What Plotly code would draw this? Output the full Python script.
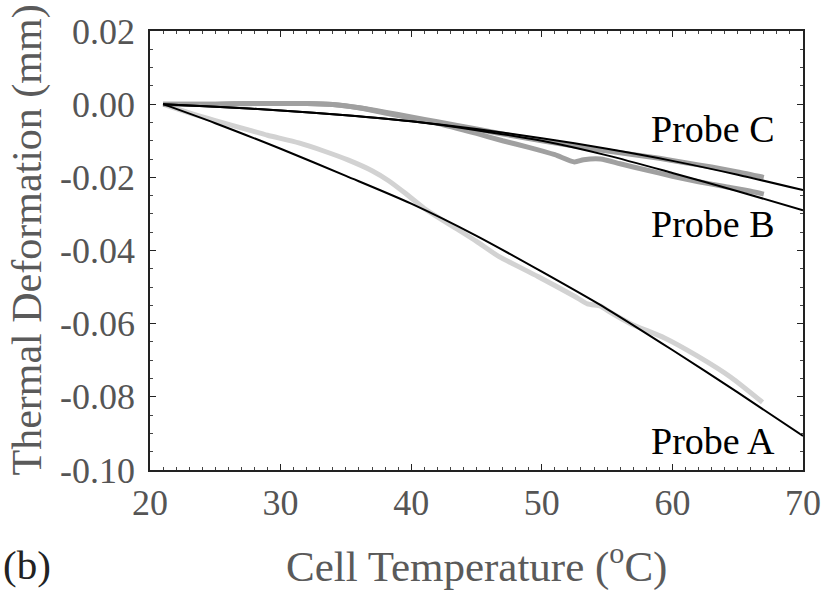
import plotly.graph_objects as go

# ---- data ----
a_data_t = [21, 23, 25, 27.6, 29, 31.4, 33.3, 35.2, 37, 38.3, 39.6, 41, 43.4, 45, 46.7, 49.7, 52.5, 53.5, 54.5, 55.1, 56.8, 59.4, 61.9, 64.5, 66.9]
a_data_y = [0, -0.0024, -0.0045, -0.0071, -0.0085, -0.0106, -0.0128, -0.0153, -0.0182, -0.0210, -0.0245, -0.0285, -0.0339, -0.0375, -0.0416, -0.0471, -0.0525, -0.0546, -0.0552, -0.0566, -0.0600, -0.0639, -0.0688, -0.0747, -0.0815]

b_data_t = [21, 25, 28, 30, 32, 34, 36, 38, 40, 42, 45, 47, 49, 51, 52.5, 53.2, 54.5, 56, 58, 60, 62, 64, 66, 67]
b_data_y = [0, 0.0, 0.0002, 0.0002, 0.0002, -0.0001, -0.0010, -0.0024, -0.0038, -0.0052, -0.0080, -0.0100, -0.0118, -0.0138, -0.0158, -0.0152, -0.0150, -0.0163, -0.0180, -0.0197, -0.0212, -0.0225, -0.0238, -0.0246]

c_data_t = [21, 25, 28, 30, 32, 34, 36, 38, 40, 42, 45, 48, 50, 53, 56, 59, 61, 63, 65, 67]
c_data_y = [0, 0.0, 0.0002, 0.0002, 0.0002, -0.0001, -0.0010, -0.0022, -0.0035, -0.0048, -0.0068, -0.0088, -0.0100, -0.0117, -0.0133, -0.0148, -0.0160, -0.0172, -0.0185, -0.0200]

fit_t = [21, 25, 30, 35, 40, 45, 50, 55, 60, 65, 70]
a_fit_y = [0, -0.0052, -0.0122, -0.0196, -0.0272, -0.0360, -0.0458, -0.0560, -0.0672, -0.0788, -0.0907]
b_fit_y = [0, -0.0007, -0.0017, -0.0030, -0.0047, -0.0071, -0.0100, -0.0140, -0.0188, -0.0238, -0.0290]
c_fit_y = [0, -0.0007, -0.0017, -0.0030, -0.0047, -0.0068, -0.0093, -0.0122, -0.0155, -0.0193, -0.0235]

x_ticks = [20, 30, 40, 50, 60, 70]
y_ticks = [0.02, 0.00, -0.02, -0.04, -0.06, -0.08, -0.10]
y_tick_text = ["0.02", "0.00", "-0.02", "-0.04", "-0.06", "-0.08", "-0.10"]

probe_labels = ["Probe C", "Probe B", "Probe A"]
probe_label_x = [63.1, 63.1, 63.1]
probe_label_y = [-0.0068, -0.0327, -0.0920]

FONT = "Liberation Serif, Times New Roman, serif"
fig = go.Figure()

for t, y, col in [(a_data_t, a_data_y, "#d2d2d2"), (b_data_t, b_data_y, "#a0a0a0"), (c_data_t, c_data_y, "#a0a0a0")]:
    fig.add_trace(go.Scatter(x=t, y=y, mode="lines", line=dict(color=col, width=5, shape="spline", smoothing=0.6),
                             showlegend=False, hoverinfo="skip"))

for y in [a_fit_y, b_fit_y, c_fit_y]:
    fig.add_trace(go.Scatter(x=fit_t, y=y, mode="lines", line=dict(color="black", width=2, shape="spline", smoothing=0.8),
                             showlegend=False, hoverinfo="skip"))

for txt, x, y in zip(probe_labels, probe_label_x, probe_label_y):
    fig.add_annotation(x=x, y=y, xref="x", yref="y", text=txt, showarrow=False,
                       font=dict(family=FONT, size=38, color="black"), xanchor="center", yanchor="middle")

fig.add_annotation(x=0, y=0.5, xref="paper", yref="paper", xshift=-123, yshift=10, text="Thermal Deformation (mm)",
                   textangle=-90, showarrow=False, font=dict(family=FONT, size=42, color="#5a5a5a"),
                   xanchor="center", yanchor="middle")
fig.add_annotation(x=0.5, y=0, xref="paper", yref="paper", yshift=-93, text="Cell Temperature (<sup>o</sup>C)",
                   showarrow=False, font=dict(family=FONT, size=43, color="#5a5a5a"),
                   xanchor="center", yanchor="middle")
fig.add_annotation(x=0, y=0, xref="paper", yref="paper", xshift=-123, yshift=-95, text="(b)",
                   showarrow=False, font=dict(family=FONT, size=41, color="#222222"),
                   xanchor="center", yanchor="middle")

axis_common = dict(showgrid=False, zeroline=False, showline=True, linecolor="#222222", linewidth=1.5,
                   mirror="ticks", ticks="inside", ticklen=6, tickwidth=1.2, tickcolor="#222222")

fig.update_xaxes(range=[20, 70], tickvals=x_ticks, ticktext=[str(v) for v in x_ticks],
                 tickfont=dict(family=FONT, size=36, color="#555555"),
                 minor=dict(dtick=1, ticks="inside", ticklen=3, tickcolor="#444444", tickwidth=1),
                 **axis_common)
fig.update_yaxes(range=[-0.10, 0.02], tickvals=y_ticks, ticktext=y_tick_text,
                 tickfont=dict(family=FONT, size=36, color="#555555"), ticklabelstandoff=6,
                 minor=dict(dtick=0.005, tick0=0, ticks="inside", ticklen=3, tickcolor="#444444", tickwidth=1),
                 **axis_common)

fig.update_layout(width=833, height=592, margin=dict(l=150, r=27, t=28, b=122),
                  paper_bgcolor="white", plot_bgcolor="white")

fig.write_html("out.html")
